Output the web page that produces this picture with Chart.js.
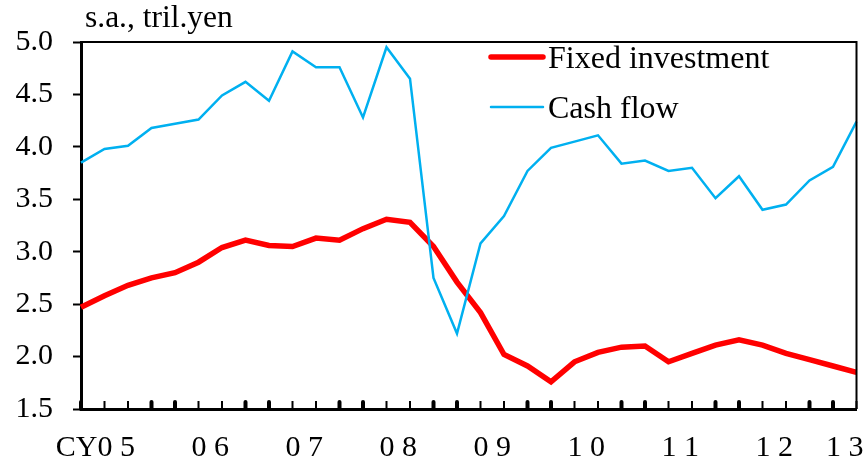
<!DOCTYPE html>
<html>
<head>
<meta charset="utf-8">
<title>Fixed investment and cash flow</title>
<script src="https://cdn.jsdelivr.net/npm/chart.js@4.4.1/dist/chart.umd.min.js"></script>
<style>
    html, body { margin: 0; padding: 0; background: #fff; }
    #wrap { position: relative; width: 867px; height: 464px; }
</style>
</head>
<body>
<div id="wrap"><canvas id="capexChart"></canvas></div>
<script>
// quarterly, CY2005 Q1 .. CY2013 Q2
const quarters = [
    '05Q1', '05Q2', '05Q3', '05Q4', '06Q1', '06Q2', '06Q3', '06Q4',
    '07Q1', '07Q2', '07Q3', '07Q4', '08Q1', '08Q2', '08Q3', '08Q4',
    '09Q1', '09Q2', '09Q3', '09Q4', '10Q1', '10Q2', '10Q3', '10Q4',
    '11Q1', '11Q2', '11Q3', '11Q4', '12Q1', '12Q2', '12Q3', '12Q4',
    '13Q1', '13Q2'
];

const fixedInvestment = [
    2.47, 2.58, 2.68, 2.75, 2.80, 2.90, 3.04, 3.11, 3.06, 3.05, 3.13, 3.11,
    3.22, 3.31, 3.28, 3.05, 2.71, 2.42, 2.02, 1.91, 1.76, 1.95, 2.04, 2.09,
    2.10, 1.95, 2.03, 2.11, 2.16, 2.11, 2.03, 1.97, 1.91, 1.85
];

const cashFlow = [
    3.85, 3.98, 4.01, 4.18, 4.22, 4.26, 4.49, 4.62, 4.44, 4.91, 4.76, 4.76,
    4.28, 4.95, 4.65, 2.75, 2.22, 3.08, 3.34, 3.77, 3.99, 4.05, 4.11, 3.84,
    3.87, 3.77, 3.80, 3.51, 3.72, 3.40, 3.45, 3.68, 3.81, 4.24
];

// year label sits on the quarter just before the middle of each year
const yearTickQuarters = ['05Q2', '06Q2', '07Q2', '08Q2', '09Q2', '10Q2', '11Q2', '12Q2', '13Q1'];
const yearTickLabels = ['CY0 5', '0 6', '0 7', '0 8', '0 9', '1 0', '1 1', '1 2', '1 3'];

const yTicks = { min: 1.5, max: 5.0, step: 0.5 };

const FONT = '"Liberation Serif", "Times New Roman", serif';

// frame on top/right, short inward ticks on the x axis, unit label and legend
const decorPlugin = {
    id: 'decor',
    afterDraw(chart) {
        const ctx = chart.ctx;
        const area = chart.chartArea;
        const xs = chart.scales.x;

        ctx.save();
        ctx.strokeStyle = '#000';
        ctx.lineWidth = 2;
        ctx.beginPath();
        ctx.moveTo(area.left, area.top);
        ctx.lineTo(area.right, area.top);
        ctx.lineTo(area.right, area.bottom);
        ctx.stroke();

        // quarter ticks pointing up into the plot
        quarters.forEach((q, i) => {
            const x = xs.getPixelForValue(i);
            const bold = (i % 4 === 0 || i % 4 === 3);
            ctx.lineWidth = bold ? 4 : 2;
            ctx.lineCap = bold ? 'round' : 'butt';
            ctx.beginPath();
            ctx.moveTo(x, area.bottom);
            ctx.lineTo(x, area.bottom - (bold ? 7 : 8));
            ctx.stroke();
        });

        ctx.fillStyle = '#000';
        ctx.textBaseline = 'alphabetic';
        ctx.textAlign = 'left';
        ctx.font = '31.5px ' + FONT;
        ctx.fillText('s.a., tril.yen', 85, 27);

        // legend
        const items = [
            { ds: chart.data.datasets[1], y: 57 },
            { ds: chart.data.datasets[0], y: 107 }
        ];
        ctx.font = '32px ' + FONT;
        items.forEach(it => {
            ctx.strokeStyle = it.ds.borderColor;
            ctx.lineWidth = it.ds.borderWidth;
            ctx.lineCap = 'round';
            ctx.beginPath();
            ctx.moveTo(491, it.y);
            ctx.lineTo(543, it.y);
            ctx.stroke();
            ctx.fillText(it.ds.label, 548, it.y + 11);
        });
        ctx.restore();
    }
};

new Chart(document.getElementById('capexChart').getContext('2d'), {
    type: 'line',
    data: {
        labels: quarters,
        datasets: [
            {
                label: 'Cash flow',
                data: cashFlow,
                borderColor: '#00B0F0',
                borderWidth: 2.5,
                pointRadius: 0,
                tension: 0,
                order: 0
            },
            {
                label: 'Fixed investment',
                data: fixedInvestment,
                borderColor: '#FF0000',
                borderWidth: 5.5,
                pointRadius: 0,
                tension: 0,
                order: 1
            }
        ]
    },
    options: {
        responsive: true,
        maintainAspectRatio: false,
        animation: false,
        layout: { padding: { left: 0, top: 42, right: 10.5, bottom: 0 } },
        plugins: {
            legend: { display: false },
            tooltip: { enabled: false }
        },
        scales: {
            x: {
                type: 'category',
                offset: false,
                grid: { display: false, drawTicks: false },
                border: { display: true, color: '#000', width: 3 },
                ticks: {
                    autoSkip: false,
                    maxRotation: 0,
                    minRotation: 0,
                    align: 'end',
                    labelOffset: 30.5,
                    padding: 21,
                    color: '#000',
                    font: { family: FONT, size: 30 },
                    callback: function (value) {
                        const k = yearTickQuarters.indexOf(this.getLabelForValue(value));
                        return k >= 0 ? yearTickLabels[k] : '';
                    }
                },
                afterFit: s => {
                    s.height = 55;
                    s.paddingLeft = 0;
                    s.paddingRight = 0;
                }
            },
            y: {
                min: yTicks.min,
                max: yTicks.max,
                grid: {
                    drawOnChartArea: false,
                    drawTicks: true,
                    tickLength: 8,
                    tickWidth: 2,
                    tickColor: '#000'
                },
                border: { display: true, color: '#000', width: 3 },
                ticks: {
                    stepSize: yTicks.step,
                    padding: 20,
                    color: '#000',
                    font: { family: FONT, size: 30 },
                    callback: v => v.toFixed(1)
                },
                afterFit: s => {
                    s.width = 81;
                    s.paddingTop = 0;
                    s.paddingBottom = 0;
                }
            }
        }
    },
    plugins: [decorPlugin]
});
</script>
</body>
</html>
